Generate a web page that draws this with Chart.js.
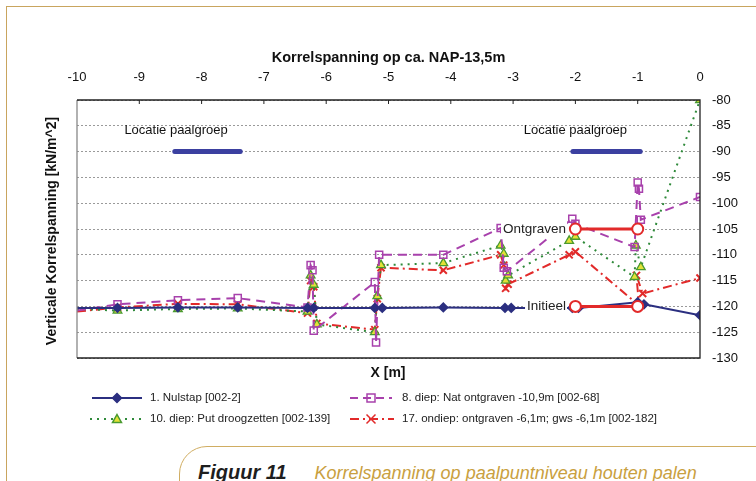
<!DOCTYPE html>
<html>
<head>
<meta charset="utf-8">
<script src="https://cdn.jsdelivr.net/npm/chart.js@4.4.1/dist/chart.umd.min.js"></script>
<style>
  html, body { margin: 0; padding: 0; background: #fff; }
  body { width: 756px; height: 481px; position: relative; overflow: hidden; font-family: "Liberation Sans", Arial, sans-serif; }
  #frame { position: absolute; left: 6px; top: 6px; width: 800px; height: 520px; border-top: 1.5px solid #c9a55e; border-left: 1.5px solid #c9a55e; }
  #chart { position: absolute; left: 0; top: 0; }
  #caption { position: absolute; left: 179px; top: 446px; width: 700px; height: 80px; border: 1.5px solid #d0ad62; border-radius: 28px 0 0 0; background: #fff; box-sizing: border-box; padding: 14px 0 0 18px; white-space: nowrap; }
  #caption b { font-family: "Liberation Sans Narrow", "Liberation Sans", Arial, sans-serif; font-style: italic; font-weight: bold; font-size: 20px; color: #1e1e1e; }
  #caption i { font-size: 18px; color: #c9a040; margin-left: 28px; }
</style>
</head>
<body>
<div id="frame"></div>
<canvas id="chart" width="756" height="481"></canvas>
<div id="caption"><b>Figuur 11</b><i>Korrelspanning op paalpuntniveau houten palen</i></div>
<script>
// ---- data ----
const nulstapX = [-10, -9.35, -8.38, -7.42, -6.3, -6.2, -5.22, -5.1, -4.12, -3.13, -3.03, -2.05, -1.95, -1.0, -0.9, 0];
const nulstapY = [-120.3, -120.3, -120.2, -120.2, -120.3, -120.3, -120.3, -120.3, -120.2, -120.3, -120.3, -120.3, -120.3, -119.2, -119.6, -121.7];

const natX = [-10, -9.35, -8.38, -7.42, -6.3, -6.25, -6.22, -6.2, -5.22, -5.2, -5.15, -4.12, -3.2, -3.15, -3.1, -2.05, -2.0, -1.05, -1.0, -0.98, -0.95, 0];
const natY = [-120.8, -119.6, -118.8, -118.4, -120.2, -112, -113, -124.7, -115.3, -127, -110, -110, -104.8, -112.5, -113.2, -103, -104, -108.5, -96, -97.2, -103.2, -98.8];

const droogX = [-10, -9.35, -8.38, -7.42, -6.3, -6.25, -6.2, -6.15, -5.22, -5.18, -5.12, -4.12, -3.2, -3.15, -3.12, -3.08, -2.1, -2.0, -1.05, -1.03, -0.95, 0];
const droogY = [-120.5, -120.8, -120.5, -120.4, -121, -114, -115.8, -123.5, -125, -118, -112, -111.6, -108.2, -109.8, -115, -114, -107.3, -106.5, -114.3, -108.2, -112.4, -80];

const ondiepX = [-10, -9.35, -8.38, -7.42, -6.3, -6.25, -6.2, -6.15, -5.22, -5.18, -5.12, -4.12, -3.2, -3.15, -3.12, -3.08, -2.1, -2.0, -0.98, -1.02, -0.92, 0];
const ondiepY = [-121, -120.2, -119.5, -119.6, -121.3, -115, -116.2, -123.3, -124.5, -118.5, -112.5, -113, -110, -112, -116.5, -115.7, -110, -109.4, -119.8, -114, -117.5, -114.5];

const ontgravenX = [-2, -1];
const ontgravenY = [-105, -105];
const initieelX = [-2, -1];
const initieelY = [-120, -120];

const paalgroepLinksX = [-8.43, -7.38];
const paalgroepRechtsX = [-2.04, -0.96];
const paalgroepY = [-90, -90];

const legendLabels = [
  '1. Nulstap [002-2]',
  '8. diep: Nat ontgraven -10,9m [002-68]',
  '10. diep: Put droogzetten [002-139]',
  '17. ondiep: ontgraven -6,1m; gws -6,1m [002-182]'
];

const FONT = '"Liberation Sans", Arial, sans-serif';
const NAVY = '#2b2f80', PURPLE = '#a841ac', GREEN = '#2f8a3a', YELLOW = '#e3e236', RED = '#e22a2a', BAR = '#3b40a0';

const pts = (xs, ys) => xs.map((x, i) => ({ x, y: ys[i] }));
const noEdge = c => (c.raw && c.raw.x === -10 ? 0 : undefined);

function marker(ctx, style, x, y, r, stroke, fill) {
  ctx.beginPath();
  if (style === 'rectRot') {
    ctx.moveTo(x, y - r); ctx.lineTo(x + r, y); ctx.lineTo(x, y + r); ctx.lineTo(x - r, y); ctx.closePath();
  } else if (style === 'rect') {
    ctx.rect(x - r, y - r, 2 * r, 2 * r);
  } else if (style === 'triangle') {
    ctx.moveTo(x, y - r); ctx.lineTo(x + r, y + r * 0.8); ctx.lineTo(x - r, y + r * 0.8); ctx.closePath();
  } else if (style === 'crossRot') {
    ctx.moveTo(x - r, y - r); ctx.lineTo(x + r, y + r); ctx.moveTo(x + r, y - r); ctx.lineTo(x - r, y + r);
  }
  if (fill && style !== 'crossRot') { ctx.fillStyle = fill; ctx.fill(); }
  ctx.setLineDash([]);
  ctx.strokeStyle = stroke; ctx.lineWidth = 1.5; ctx.stroke();
}

const extras = {
  id: 'extras',
  afterDatasetsDraw(chart) {
    const { ctx, scales: { x, y } } = chart;
    ctx.save();
    ctx.font = '13px ' + FONT;
    ctx.fillStyle = '#111';
    ctx.textBaseline = 'middle';
    ctx.textAlign = 'center';
    ctx.fillText('Locatie paalgroep', x.getPixelForValue(-8.41), y.getPixelForValue(-85.8));
    ctx.fillText('Locatie paalgroep', x.getPixelForValue(-2.0), y.getPixelForValue(-85.8));

    // labels with white background
    ctx.font = '13.5px ' + FONT;
    ctx.textAlign = 'right';
    [['Ontgraven', -105], ['Initieel', -120]].forEach(([t, v]) => {
      const px = x.getPixelForValue(-2.15), py = y.getPixelForValue(v);
      const w = ctx.measureText(t).width;
      ctx.fillStyle = '#fff';
      ctx.fillRect(px - w - 2, py - 8, w + 3, 16);
      ctx.fillStyle = '#222';
      ctx.fillText(t, px, py);
    });
    ctx.restore();
  },
  afterDraw(chart) {
    const { ctx, chartArea: a, scales: { x } } = chart;
    ctx.save();
    // plot border
    ctx.lineWidth = 1.3;
    ctx.strokeStyle = '#888';
    ctx.beginPath(); ctx.moveTo(a.left, a.top); ctx.lineTo(a.left, a.bottom); ctx.stroke();
    ctx.strokeStyle = '#222';
    ctx.beginPath();
    ctx.moveTo(a.left, a.bottom); ctx.lineTo(a.right, a.bottom);
    ctx.lineTo(a.right, a.top); ctx.lineTo(a.left, a.top);
    ctx.stroke();
    // small inward ticks on top axis
    ctx.lineWidth = 1;
    for (let v = -9; v <= -1; v++) {
      const px = x.getPixelForValue(v);
      ctx.beginPath(); ctx.moveTo(px, a.top); ctx.lineTo(px, a.top + 4); ctx.stroke();
    }

    // axis titles
    ctx.fillStyle = '#111';
    ctx.font = 'bold 14px ' + FONT;
    ctx.textAlign = 'center';
    ctx.textBaseline = 'middle';
    ctx.fillText('X [m]', 388, 373);
    ctx.save();
    ctx.translate(52, 231);
    ctx.rotate(-Math.PI / 2);
    ctx.font = 'bold 14px ' + FONT;
    ctx.fillText('Verticale Korrelspanning [kN/m^2]', 0, 0);
    ctx.restore();

    // legend
    const items = [
      { x0: 92, x1: 142, m: 117, y: 398, color: NAVY, dash: [], style: 'rectRot', fill: NAVY, tx: 150 },
      { x0: 350, x1: 392, m: 371, y: 398, color: PURPLE, dash: [8, 5], style: 'rect', fill: null, tx: 402 },
      { x0: 90, x1: 142, m: 117, y: 419, color: GREEN, dash: [2, 5], style: 'triangle', fill: YELLOW, tx: 150 },
      { x0: 350, x1: 394, m: 371, y: 419, color: RED, dash: [9, 4, 2, 4], style: 'crossRot', fill: null, tx: 402 }
    ];
    items.forEach((it, i) => {
      ctx.strokeStyle = it.color;
      ctx.lineWidth = 2;
      ctx.setLineDash(it.dash);
      ctx.beginPath(); ctx.moveTo(it.x0, it.y); ctx.lineTo(it.x1, it.y); ctx.stroke();
      marker(ctx, it.style, it.m, it.y, it.style === 'rect' ? 4 : 4.5, it.style === 'triangle' ? '#4a9a30' : it.color, it.fill);
      ctx.fillStyle = '#222';
      ctx.font = '11.5px ' + FONT;
      ctx.textAlign = 'left';
      ctx.fillText(legendLabels[i], it.tx, it.y);
    });
    ctx.restore();
  }
};

const ctx = document.getElementById('chart').getContext('2d');
new Chart(ctx, {
  type: 'line',
  data: {
    datasets: [
      {
        label: 'Ontgraven', data: pts(ontgravenX, ontgravenY),
        borderColor: RED, borderWidth: 3, pointStyle: 'circle', pointRadius: 5.5,
        pointBackgroundColor: '#fff', pointBorderColor: RED, pointBorderWidth: 2
      },
      {
        label: 'Initieel', data: pts(initieelX, initieelY),
        borderColor: RED, borderWidth: 3, pointStyle: 'circle', pointRadius: 5.5,
        pointBackgroundColor: '#fff', pointBorderColor: RED, pointBorderWidth: 2
      },
      {
        label: legendLabels[0], data: pts(nulstapX, nulstapY),
        borderColor: NAVY, borderWidth: 2, pointStyle: 'rectRot',
        pointRadius: c => noEdge(c) ?? 4, pointBackgroundColor: NAVY, pointBorderColor: NAVY
      },
      {
        label: legendLabels[1], data: pts(natX, natY),
        borderColor: PURPLE, borderWidth: 2, borderDash: [9, 6], pointStyle: 'rect',
        pointRadius: c => noEdge(c) ?? 5, pointBackgroundColor: 'rgba(255,255,255,0)',
        pointBorderColor: PURPLE, pointBorderWidth: 1.5
      },
      {
        label: legendLabels[2], data: pts(droogX, droogY),
        borderColor: GREEN, borderWidth: 2, borderDash: [2, 5], pointStyle: 'triangle',
        pointRadius: c => noEdge(c) ?? 5, pointBackgroundColor: YELLOW,
        pointBorderColor: '#4a9a30', pointBorderWidth: 1.3
      },
      {
        label: legendLabels[3], data: pts(ondiepX, ondiepY),
        borderColor: RED, borderWidth: 2, borderDash: [9, 4, 2, 4], pointStyle: 'crossRot',
        pointRadius: c => noEdge(c) ?? 5, pointBorderColor: RED, pointBorderWidth: 2
      },
      {
        label: 'paalgroep links', data: pts(paalgroepLinksX, paalgroepY),
        borderColor: BAR, borderWidth: 5, borderCapStyle: 'round', pointRadius: 0
      },
      {
        label: 'paalgroep rechts', data: pts(paalgroepRechtsX, paalgroepY),
        borderColor: BAR, borderWidth: 5, borderCapStyle: 'round', pointRadius: 0
      }
    ]
  },
  options: {
    responsive: false,
    animation: false,
    layout: { padding: { left: 77, right: 0, top: 40, bottom: 123 } },
    plugins: {
      legend: { display: false },
      tooltip: { enabled: false }
    },
    scales: {
      x: {
        type: 'linear', position: 'top', min: -10, max: 0,
        ticks: { stepSize: 1, color: '#111', padding: 15, maxRotation: 0, font: { family: FONT, size: 13 } },
        grid: { display: false, drawTicks: false },
        border: { display: false },
        title: {
          display: true, text: 'Korrelspanning op ca. NAP-13,5m', color: '#111',
          font: { family: FONT, size: 14.5, weight: 'bold' }, padding: { top: 9, bottom: 0 }
        },
        afterFit: s => { s.height = 60; }
      },
      y: {
        position: 'right', min: -130, max: -80,
        ticks: { stepSize: 5, color: '#111', padding: 12, font: { family: FONT, size: 13 } },
        grid: { color: '#9a9a9a', lineWidth: 1, drawTicks: false },
        border: { display: false, dash: [2, 2] },
        afterFit: s => { s.width = 56; }
      }
    }
  },
  plugins: [extras]
});
</script>
</body>
</html>
